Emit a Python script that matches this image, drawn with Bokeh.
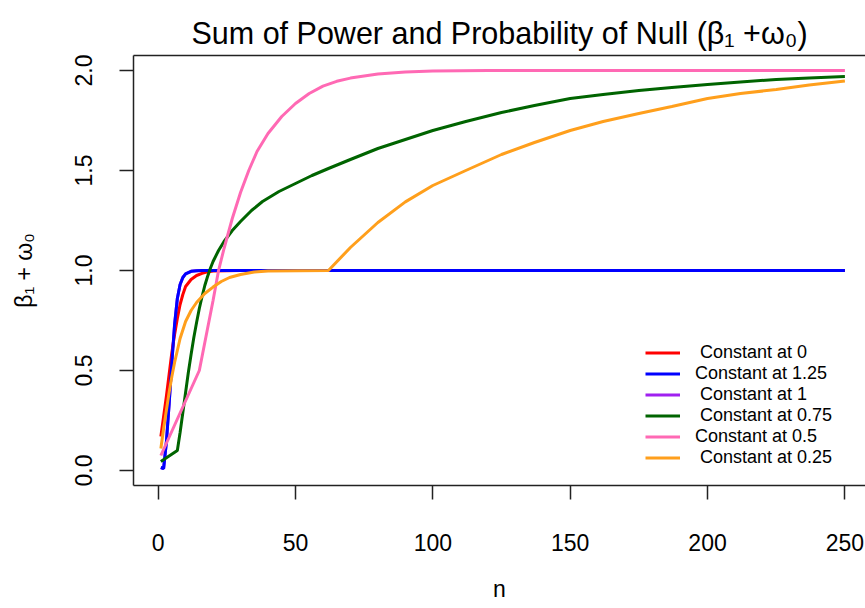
from bokeh.plotting import figure
from bokeh.models import (Range1d, FixedTicker, PrintfTickFormatter, LinearAxis,
                          Legend, LegendItem)
from bokeh.embed import file_html
from bokeh.resources import INLINE

# ---- data -------------------------------------------------------------
n_c0 = [1, 2, 3, 4, 5, 6, 7, 8, 9, 10, 12, 14, 16, 18, 20, 25, 30, 250]
y_c0 = [0.17, 0.27, 0.37, 0.48, 0.59, 0.68, 0.76, 0.83, 0.88, 0.92, 0.955,
        0.975, 0.986, 0.993, 0.997, 0.999, 1.0, 1.0]

n_c125 = [1, 2, 3, 4, 5, 6, 7, 8, 9, 10, 12, 14, 16, 250]
y_c125 = [0.015, 0.01, 0.14, 0.33, 0.54, 0.73, 0.86, 0.93, 0.965, 0.983,
          0.996, 0.999, 1.0, 1.0]

n_c1 = [1, 2, 3, 4, 5, 6, 7, 8, 9, 10, 12, 14, 16, 250]
y_c1 = [0.015, 0.01, 0.14, 0.33, 0.54, 0.73, 0.86, 0.93, 0.965, 0.983,
        0.996, 0.999, 1.0, 1.0]

n_c075 = [1, 7, 8, 9, 10, 11, 12, 13, 14, 15, 16, 17, 18, 19, 20, 22, 24, 27,
          30, 34, 38, 44, 50, 56, 62, 70, 80, 90, 100, 112, 125, 137, 150,
          162, 175, 187, 200, 212, 225, 237, 250]
y_c075 = [0.045, 0.10, 0.19, 0.29, 0.39, 0.49, 0.58, 0.665, 0.74, 0.81, 0.87,
          0.925, 0.97, 1.01, 1.045, 1.10, 1.145, 1.20, 1.245, 1.30, 1.345,
          1.395, 1.435, 1.475, 1.51, 1.555, 1.61, 1.655, 1.70, 1.745, 1.79,
          1.825, 1.86, 1.88, 1.90, 1.915, 1.93, 1.943, 1.955, 1.963, 1.97]

n_c05 = [1, 15, 16, 17, 18, 19, 20, 21, 22, 23, 24, 25, 27, 30, 33, 36, 40,
         45, 50, 55, 60, 65, 70, 80, 90, 100, 120, 250]
y_c05 = [0.075, 0.5, 0.57, 0.64, 0.71, 0.78, 0.85, 0.925, 1.0, 1.055, 1.11,
         1.16, 1.26, 1.39, 1.50, 1.595, 1.685, 1.77, 1.835, 1.885, 1.922,
         1.946, 1.962, 1.982, 1.992, 1.997, 2.0, 2.0]

n_c025 = [1, 2, 3, 4, 5, 6, 8, 10, 12, 14, 17, 20, 23, 26, 30, 35, 40, 62,
          70, 80, 90, 100, 112, 125, 137, 150, 162, 175, 187, 200, 212, 225,
          237, 250]
y_c025 = [0.11, 0.21, 0.30, 0.39, 0.47, 0.54, 0.66, 0.745, 0.80, 0.84, 0.885,
          0.917, 0.945, 0.965, 0.98, 0.992, 0.998, 1.0, 1.115, 1.24, 1.343,
          1.425, 1.50, 1.58, 1.64, 1.70, 1.745, 1.785, 1.82, 1.86, 1.885,
          1.905, 1.928, 1.947]

x_ticks = [0, 50, 100, 150, 200, 250]
y_ticks = [0.0, 0.5, 1.0, 1.5, 2.0]

FONT = "Liberation Sans"

# ---- figure -----------------------------------------------------------
p = figure(width=865, height=608, output_backend="svg", toolbar_location=None,
           x_range=Range1d(-8.96, 257.5), y_range=Range1d(-0.075, 2.075),
           min_border_left=133, min_border_right=0, min_border_top=55,
           min_border_bottom=123)
p.grid.visible = False
p.outline_line_color = None
p.background_fill_color = "white"
p.border_fill_color = "white"

p.title.text = "Sum of Power and Probability of Null (\u03b2\u2081 +\u03c9\u2080)"
p.title.align = "center"
p.title.text_font = FONT
p.title.text_font_size = "30.5px"
p.title.text_font_style = "normal"
p.title.text_color = "black"
p.title.standoff = 12

for ax in (p.xaxis[0], p.yaxis[0]):
    ax.axis_line_color = "#222222"
    ax.axis_line_width = 1.5
    ax.major_tick_line_color = "#222222"
    ax.major_tick_line_width = 1.5
    ax.major_tick_out = 14
    ax.major_tick_in = 0
    ax.minor_tick_line_color = None
    ax.major_label_text_font = FONT
    ax.major_label_text_font_size = "23px"
    ax.major_label_text_color = "black"
    ax.axis_label_text_font = FONT
    ax.axis_label_text_font_size = "23px"
    ax.axis_label_text_font_style = "normal"
    ax.axis_label_text_color = "black"

p.xaxis.ticker = FixedTicker(ticks=x_ticks)
p.xaxis.major_label_standoff = 34
p.xaxis.axis_label = "n"
p.xaxis.axis_label_standoff = 22

p.yaxis.ticker = FixedTicker(ticks=y_ticks)
p.yaxis.formatter = PrintfTickFormatter(format="%.1f")
p.yaxis.major_label_orientation = "vertical"
p.yaxis.major_label_standoff = 28
p.yaxis.axis_label = "\u03b2\u2081 + \u03c9\u2080"
p.yaxis.axis_label_standoff = 35

# top edge of the box
top = LinearAxis(ticker=FixedTicker(ticks=[]), major_label_text_font_size="0px",
                 axis_line_color="#222222", axis_line_width=1.5,
                 major_tick_line_color=None, minor_tick_line_color=None)
p.add_layout(top, "above")

# ---- curves -----------------------------------------------------------
W = 3
r_c1 = p.line(n_c1, y_c1, line_color="#A020F0", line_width=W)
r_c0 = p.line(n_c0, y_c0, line_color="#FF0000", line_width=W)
r_c125 = p.line(n_c125, y_c125, line_color="#0000FF", line_width=W)
r_c075 = p.line(n_c075, y_c075, line_color="#006400", line_width=W)
r_c05 = p.line(n_c05, y_c05, line_color="#FF69B4", line_width=W)
r_c025 = p.line(n_c025, y_c025, line_color="#FF9F1C", line_width=W)

NB = "\u00a0"
legend = Legend(items=[
    LegendItem(label=NB + "Constant at 0", renderers=[r_c0]),
    LegendItem(label="Constant at 1.25", renderers=[r_c125]),
    LegendItem(label=NB + "Constant at 1", renderers=[r_c1]),
    LegendItem(label=NB + "Constant at 0.75", renderers=[r_c075]),
    LegendItem(label="Constant at 0.5", renderers=[r_c05]),
    LegendItem(label=NB + "Constant at 0.25", renderers=[r_c025]),
], location=(512, 17))
legend.border_line_color = None
legend.background_fill_alpha = 0
legend.padding = 0
legend.margin = 0
legend.spacing = 0
legend.glyph_width = 35
legend.glyph_height = 21
legend.label_height = 21
legend.label_standoff = 15
legend.label_text_font = FONT
legend.label_text_font_size = "18px"
legend.label_text_color = "black"
p.add_layout(legend)

open("out.html", "w").write(file_html(p, INLINE))
